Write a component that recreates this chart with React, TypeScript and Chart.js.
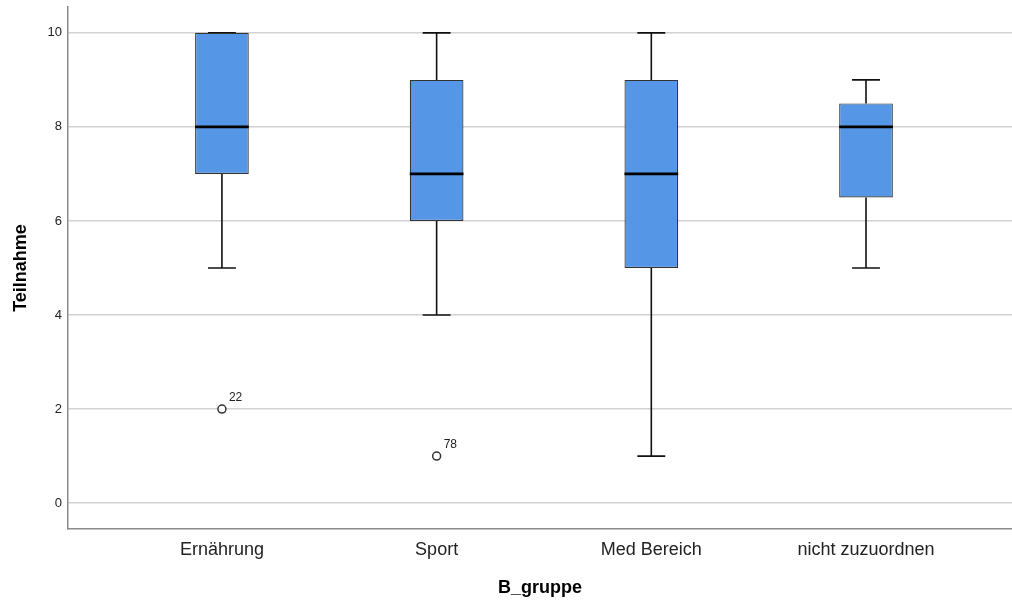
import React, { useEffect, useRef } from "react";
import { Chart, registerables } from "chart.js";

Chart.register(...registerables);

const categories = ["Ernährung", "Sport", "Med Bereich", "nicht zuzuordnen"];
const whiskerLow = [5, 4, 1, 5];
const q1 = [7, 6, 5, 6.5];
const median = [8, 7, 7, 8];
const q3 = [10, 9, 9, 8.5];
const whiskerHigh = [10, 10, 10, 9];
const outlierGroup = [1, 2];
const outlierValue = [2, 1];
const outlierLabel = ["22", "78"];
const yTicks = [0, 2, 4, 6, 8, 10];

const FONT = "'Liberation Sans', Arial, sans-serif";

export default function App() {
  const ref = useRef<HTMLCanvasElement | null>(null);

  useEffect(() => {
    if (!ref.current) return;
    const xs = categories.map((_, i) => i + 1);
    const capHalf = 0.065;
    const boxHalf = 0.125;

    const whiskerData: any[] = [];
    const medianData: any[] = [];
    xs.forEach((x, i) => {
      whiskerData.push({ x, y: q3[i] }, { x, y: whiskerHigh[i] }, { x, y: null });
      whiskerData.push({ x, y: whiskerLow[i] }, { x, y: q1[i] }, { x, y: null });
      whiskerData.push({ x: x - capHalf, y: whiskerHigh[i] }, { x: x + capHalf, y: whiskerHigh[i] }, { x, y: null });
      whiskerData.push({ x: x - capHalf, y: whiskerLow[i] }, { x: x + capHalf, y: whiskerLow[i] }, { x, y: null });
      medianData.push({ x: x - boxHalf, y: median[i] }, { x: x + boxHalf, y: median[i] }, { x, y: null });
    });

    const outlierData = outlierGroup.map((g, i) => ({ x: g, y: outlierValue[i] }));

    const labelPlugin = {
      id: "outlierLabels",
      afterDatasetsDraw(chart: any) {
        const { ctx, scales } = chart;
        ctx.save();
        ctx.font = `12px ${FONT}`;
        ctx.fillStyle = "#222";
        ctx.textAlign = "left";
        ctx.textBaseline = "alphabetic";
        outlierGroup.forEach((g, i) => {
          const px = scales.x.getPixelForValue(g);
          const py = scales.y.getPixelForValue(outlierValue[i]);
          ctx.fillText(outlierLabel[i], px + 7, py - 8);
        });
        ctx.restore();
      },
    };

    const zeroPad = (scale: any) => {
      scale.paddingTop = 0;
      scale.paddingBottom = 0;
      scale.paddingLeft = 0;
      scale.paddingRight = 0;
    };

    const chart = new Chart(ref.current, {
      type: "bar",
      data: {
        datasets: [
          {
            type: "line",
            data: whiskerData,
            borderColor: "#111",
            borderWidth: 1.6,
            pointRadius: 0,
            fill: false,
            spanGaps: false,
            order: 3,
          } as any,
          {
            type: "bar",
            data: xs.map((x, i) => ({ x, y: [q1[i], q3[i]] })),
            backgroundColor: "#5596e6",
            borderColor: "#333333",
            borderWidth: 1.2,
            borderSkipped: false,
            barPercentage: 0.25,
            categoryPercentage: 1,
            order: 2,
          } as any,
          {
            type: "line",
            data: medianData,
            borderColor: "#000",
            borderWidth: 2.8,
            pointRadius: 0,
            fill: false,
            spanGaps: false,
            order: 1,
          } as any,
          {
            type: "scatter",
            data: outlierData,
            pointStyle: "circle",
            pointRadius: 4,
            borderColor: "#333",
            borderWidth: 1.5,
            backgroundColor: "#fff",
            order: 0,
          } as any,
        ],
      },
      options: {
        animation: false,
        responsive: false,
        devicePixelRatio: 1,
        layout: { autoPadding: false, padding: { top: 7, left: 0, right: 0, bottom: 0 } },
        plugins: { legend: { display: false }, tooltip: { enabled: false } },
        scales: {
          x: {
            type: "linear",
            offset: false,
            min: 0.283,
            max: 4.68,
            grid: { display: false, drawTicks: false, offset: false },
            border: { display: true, color: "#8a8a8a", width: 1.5 },
            afterBuildTicks: (scale: any) => {
              scale.ticks = xs.map((v) => ({ value: v }));
            },
            afterFit: (scale: any) => {
              scale.height = 72;
              zeroPad(scale);
            },
            ticks: {
              padding: 10,
              color: "#222",
              font: { family: FONT, size: 18 },
              callback: (v: any) => categories[Math.round(Number(v)) - 1] ?? "",
            },
            title: {
              display: true,
              text: "B_gruppe",
              color: "#000",
              font: { family: FONT, size: 18, weight: "bold" },
              padding: { top: 0, bottom: 2 },
            },
          },
          y: {
            type: "linear",
            min: -0.55,
            max: 10.55,
            grid: { color: "#d2d2d2", lineWidth: 1.5, drawTicks: false },
            border: { display: true, color: "#8a8a8a", width: 1.5 },
            afterBuildTicks: (scale: any) => {
              scale.ticks = yTicks.map((v) => ({ value: v }));
            },
            afterFit: (scale: any) => {
              scale.width = 68;
              zeroPad(scale);
            },
            ticks: {
              padding: 6,
              color: "#222",
              font: { family: FONT, size: 13 },
            },
            title: {
              display: true,
              text: "Teilnahme",
              color: "#000",
              font: { family: FONT, size: 18, weight: "bold" },
              padding: { top: 10, bottom: 0 },
            },
          },
        },
      } as any,
      plugins: [labelPlugin],
    });

    return () => chart.destroy();
  }, []);

  return (
    <div style={{ position: "absolute", left: 0, top: 0, width: 1012, height: 601, background: "#fff" }}>
      <canvas ref={ref} width={1012} height={601} />
    </div>
  );
}
